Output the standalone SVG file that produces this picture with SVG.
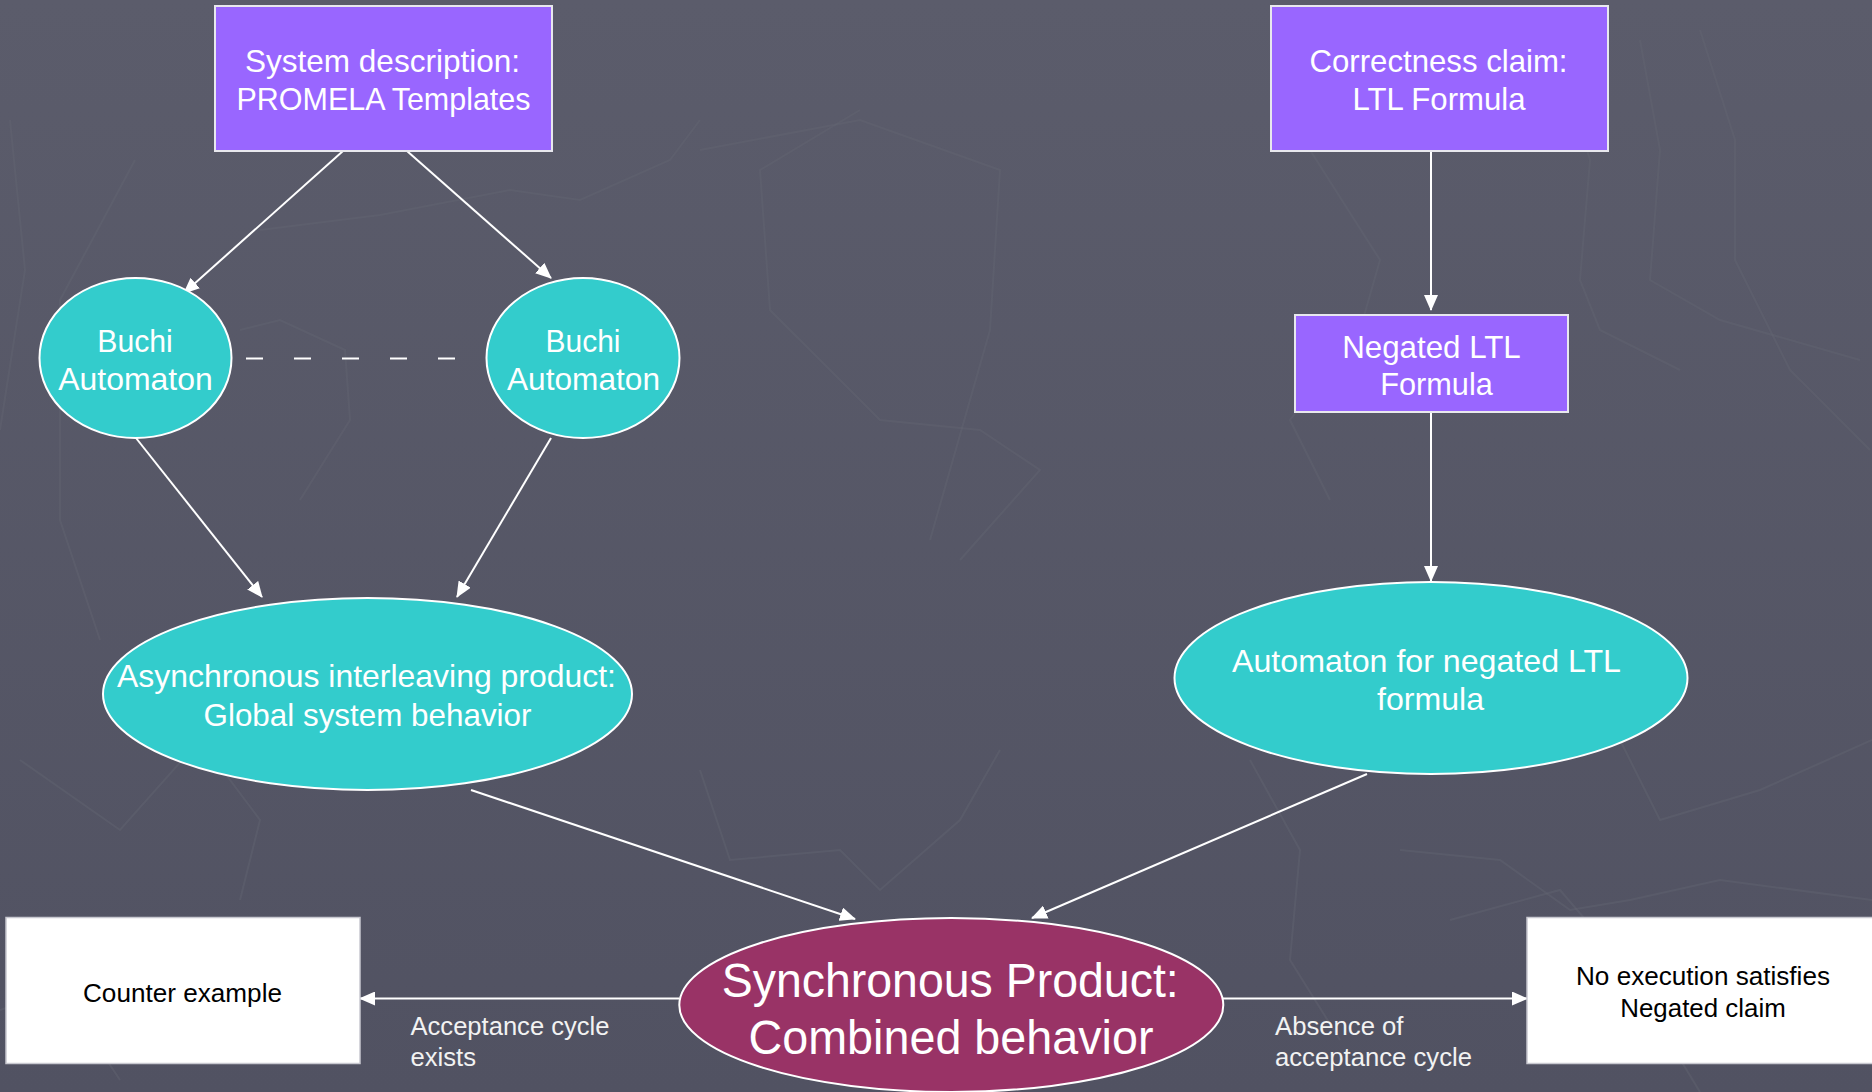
<svg xmlns="http://www.w3.org/2000/svg" width="1872" height="1092" viewBox="0 0 1872 1092">
  <defs>
    <linearGradient id="bg" x1="0" y1="0" x2="0" y2="1">
      <stop offset="0" stop-color="#5b5c6b"/>
      <stop offset="1" stop-color="#515262"/>
    </linearGradient>
    <marker id="arrow" viewBox="0 0 16 14" refX="15" refY="7" markerWidth="16" markerHeight="14" markerUnits="userSpaceOnUse" orient="auto">
      <path d="M0,0 L16,7 L0,14 Z" fill="#ffffff"/>
    </marker>
  </defs>
  <style>
    .lbl { font-family: "Liberation Sans", Arial, sans-serif; fill: #ffffff; text-anchor: middle; }
    .big { font-size: 32px; }
    .huge { font-size: 48px; }
    .small { font-size: 25px; }
    .dark { fill: #000000; }
    .edge { font-family: "Liberation Sans", Arial, sans-serif; font-size: 25px; fill: #f2f2f2; text-anchor: start; }
    .purple { fill: #9966ff; stroke: #e8e8ee; stroke-width: 2; }
    .teal { fill: #33cccc; stroke: #ffffff; stroke-width: 2; }
    .magenta { fill: #993366; stroke: #ffffff; stroke-width: 2; }
    .white { fill: #ffffff; stroke: #c8c8d0; stroke-width: 1.5; }
    .conn { stroke: #ffffff; stroke-width: 2; fill: none; }
    .bgline { stroke: #656674; stroke-width: 2; fill: none; opacity: 0.4; }
  </style>

  <rect x="0" y="0" width="1872" height="1092" fill="url(#bg)"/>

  <g id="background-pattern">
    <polyline class="bgline" points="10,120 25,270 0,430"/>
    <polyline class="bgline" points="135,160 60,300 60,520 100,640"/>
    <polyline class="bgline" points="260,230 380,215 510,190 580,200 670,160 700,120"/>
    <polyline class="bgline" points="240,330 280,320 345,350 350,420 300,500"/>
    <polyline class="bgline" points="860,110 760,170 770,310 880,420 980,430 1040,470 960,560"/>
    <polyline class="bgline" points="700,150 860,120 1000,170 990,330 930,540"/>
    <polyline class="bgline" points="1310,150 1380,260 1360,330 1290,420 1330,500"/>
    <polyline class="bgline" points="1640,40 1660,150 1650,280 1720,320 1860,360"/>
    <polyline class="bgline" points="1700,30 1735,140 1735,260 1790,370 1870,450"/>
    <polyline class="bgline" points="1560,60 1590,160 1580,280 1600,330 1680,370"/>
    <polyline class="bgline" points="1250,760 1300,850 1290,960 1340,1040"/>
    <polyline class="bgline" points="1400,850 1500,860 1570,910 1630,900 1720,880 1872,900"/>
    <polyline class="bgline" points="1600,700 1660,820 1760,790 1872,740"/>
    <polyline class="bgline" points="700,770 730,860 840,850 880,890 960,820 1000,750"/>
    <polyline class="bgline" points="20,760 120,830 200,740 260,820 240,900"/>
    <polyline class="bgline" points="0,1010 60,990 120,1080"/>
    <polyline class="bgline" points="1450,920 1560,890 1620,960 1700,1092"/>
  </g>

  <g id="connectors">
    <line class="conn" x1="343" y1="151" x2="184" y2="293" marker-end="url(#arrow)"/>
    <line class="conn" x1="407" y1="151" x2="551" y2="278" marker-end="url(#arrow)"/>
    <line class="conn" x1="246" y1="358.5" x2="458" y2="358.5" stroke-dasharray="17 31"/>
    <line class="conn" x1="136" y1="438" x2="262" y2="597" marker-end="url(#arrow)"/>
    <line class="conn" x1="551" y1="438" x2="457" y2="597" marker-end="url(#arrow)"/>
    <line class="conn" x1="1431" y1="151" x2="1431" y2="310" marker-end="url(#arrow)"/>
    <line class="conn" x1="1431" y1="406" x2="1431" y2="581" marker-end="url(#arrow)"/>
    <line class="conn" x1="471" y1="790" x2="855" y2="919" marker-end="url(#arrow)"/>
    <line class="conn" x1="1367" y1="774" x2="1032" y2="918" marker-end="url(#arrow)"/>
    <line class="conn" x1="679" y1="998.5" x2="360" y2="998.5" marker-end="url(#arrow)"/>
    <line class="conn" x1="1223" y1="998.5" x2="1527" y2="998.5" marker-end="url(#arrow)"/>
  </g>

  <g id="system-description">
    <rect class="purple" x="215" y="6" width="337" height="145"/>
    <text class="lbl big" x="382.5" y="71.5" textLength="275" lengthAdjust="spacingAndGlyphs">System description:</text>
    <text class="lbl big" x="383.5" y="110" textLength="294" lengthAdjust="spacingAndGlyphs">PROMELA Templates</text>
  </g>

  <g id="correctness-claim">
    <rect class="purple" x="1271" y="6" width="337" height="145"/>
    <text class="lbl big" x="1438.5" y="71.5" textLength="258" lengthAdjust="spacingAndGlyphs">Correctness claim:</text>
    <text class="lbl big" x="1439" y="110" textLength="173" lengthAdjust="spacingAndGlyphs">LTL Formula</text>
  </g>

  <g id="buchi-left">
    <ellipse class="teal" cx="135.5" cy="358" rx="96" ry="80"/>
    <text class="lbl big" x="135" y="351.5" textLength="75.5" lengthAdjust="spacingAndGlyphs">Buchi</text>
    <text class="lbl big" x="135.5" y="390" textLength="154.5" lengthAdjust="spacingAndGlyphs">Automaton</text>
  </g>

  <g id="buchi-right">
    <ellipse class="teal" cx="583" cy="358" rx="96.5" ry="80"/>
    <text class="lbl big" x="583" y="351.5" textLength="75" lengthAdjust="spacingAndGlyphs">Buchi</text>
    <text class="lbl big" x="583.5" y="390" textLength="153" lengthAdjust="spacingAndGlyphs">Automaton</text>
  </g>

  <g id="negated-ltl">
    <rect class="purple" x="1295" y="315" width="273" height="97"/>
    <text class="lbl big" x="1431.5" y="357.5" textLength="178.5" lengthAdjust="spacingAndGlyphs">Negated LTL</text>
    <text class="lbl big" x="1436.5" y="395" textLength="112.5" lengthAdjust="spacingAndGlyphs">Formula</text>
  </g>

  <g id="async-product">
    <ellipse class="teal" cx="367.5" cy="694" rx="264.5" ry="96"/>
    <text class="lbl big" x="366.5" y="687" textLength="499" lengthAdjust="spacingAndGlyphs">Asynchronous interleaving product:</text>
    <text class="lbl big" x="367.5" y="725.5" textLength="328" lengthAdjust="spacingAndGlyphs">Global system behavior</text>
  </g>

  <g id="negated-automaton">
    <ellipse class="teal" cx="1431" cy="678" rx="256.5" ry="96"/>
    <text class="lbl big" x="1426.5" y="672" textLength="389" lengthAdjust="spacingAndGlyphs">Automaton for negated LTL</text>
    <text class="lbl big" x="1430.5" y="709.5" textLength="107" lengthAdjust="spacingAndGlyphs">formula</text>
  </g>

  <g id="synchronous-product">
    <ellipse class="magenta" cx="951.3" cy="1005" rx="272" ry="87"/>
    <text class="lbl huge" x="950.2" y="996.5" textLength="457" lengthAdjust="spacingAndGlyphs">Synchronous Product:</text>
    <text class="lbl huge" x="951" y="1053.5" textLength="405" lengthAdjust="spacingAndGlyphs">Combined behavior</text>
  </g>

  <g id="counter-example">
    <rect class="white" x="6" y="917.5" width="354" height="146"/>
    <text class="lbl small dark" x="182.5" y="1001.5" textLength="199" lengthAdjust="spacingAndGlyphs">Counter example</text>
  </g>

  <g id="no-execution">
    <rect class="white" x="1527" y="917.5" width="352" height="146"/>
    <text class="lbl small dark" x="1703" y="984.5" textLength="254" lengthAdjust="spacingAndGlyphs">No execution satisfies</text>
    <text class="lbl small dark" x="1703" y="1016.5" textLength="165.5" lengthAdjust="spacingAndGlyphs">Negated claim</text>
  </g>

  <g id="edge-labels">
    <text class="edge" x="410.5" y="1034.5" textLength="199" lengthAdjust="spacingAndGlyphs">Acceptance cycle</text>
    <text class="edge" x="410.5" y="1065.5" textLength="65.5" lengthAdjust="spacingAndGlyphs">exists</text>
    <text class="edge" x="1275" y="1035" textLength="128.5" lengthAdjust="spacingAndGlyphs">Absence of</text>
    <text class="edge" x="1275" y="1065.5" textLength="197" lengthAdjust="spacingAndGlyphs">acceptance cycle</text>
  </g>
</svg>
